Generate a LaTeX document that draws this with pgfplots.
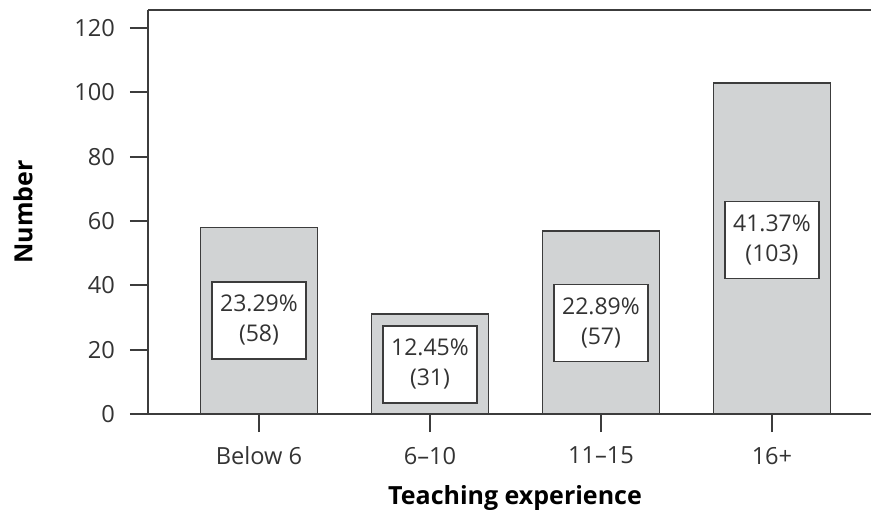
\documentclass[border=0pt]{standalone}
\usepackage{pgfplots}
\pgfplotsset{compat=1.18}
\usepackage{pgfplotstable}
\usepackage{fontspec}
\setmainfont{Open Sans}

\definecolor{barfill}{HTML}{D1D3D4}
\definecolor{edge}{HTML}{3C3C3C}
\definecolor{txt}{HTML}{333333}

% x: category position, count: number of teachers, pct: share,
% ly: height at which the value box sits
\pgfplotstableread{
x count pct ly
0 58 23.29 29.1
1 31 12.45 15.4
2 57 22.89 28.3
3 103 41.37 54.1
}\experience

\begin{document}
\begin{tikzpicture}
\begin{axis}[
  scale only axis,
  width=361.5bp, height=202bp,
  xmin=-0.649, xmax=3.579,
  ymin=0, ymax=125.6,
  axis lines*=left,
  axis line style={draw=edge, line width=0.85bp},
  tick align=outside,
  major tick length=9bp,
  tick style={draw=edge, line width=0.85bp},
  xtick={0,1,2,3},
  xticklabels={Below 6, 6--10, 11--15, 16+},
  ytick={0,20,...,120},
  ticklabel style={font=\fontsize{11.8bp}{13bp}\selectfont, text=txt},
  yticklabel style={xshift=-4bp},
  xticklabel style={yshift=-4bp},
  /pgf/number format/assume math mode=true,
  xlabel={Teaching experience},
  ylabel={Number},
  label style={font=\fontsize{12.5bp}{14bp}\selectfont\bfseries, text=black},
  x label style={at={(axis description cs:0.5076,0)}, anchor=north, yshift=-32bp},
  y label style={at={(axis description cs:-0.1729,0.5)}, anchor=center},
  clip=false,
]
\addplot[ybar, bar width=0.684, fill=barfill, draw=edge, line width=0.85bp]
  table[x=x, y=count] {\experience};
\addplot[draw=none, mark=none,
  point meta=y,
  visualization depends on={\thisrow{pct}\as\pct},
  visualization depends on={\thisrow{count}\as\cnt},
  nodes near coords={\pgfmathprintnumber[fixed,fixed zerofill,precision=2]{\pct}\%\\(\pgfmathprintnumber[fixed,precision=0]{\cnt})},
  every node near coord/.style={anchor=center, draw=edge, fill=white,
    line width=0.85bp, align=center, text=txt, inner sep=0pt,
    minimum width=47bp, minimum height=38.5bp,
    font=\fontsize{11.5bp}{15bp}\selectfont},
] table[x=x, y=ly] {\experience};
\draw[draw=edge, line width=0.85bp] (rel axis cs:0,1) -- (rel axis cs:1,1);
\end{axis}
\pgfresetboundingbox
\path[use as bounding box] (-74bp,-49.5bp) rectangle (361.5bp,207bp);
\end{tikzpicture}
\end{document}
